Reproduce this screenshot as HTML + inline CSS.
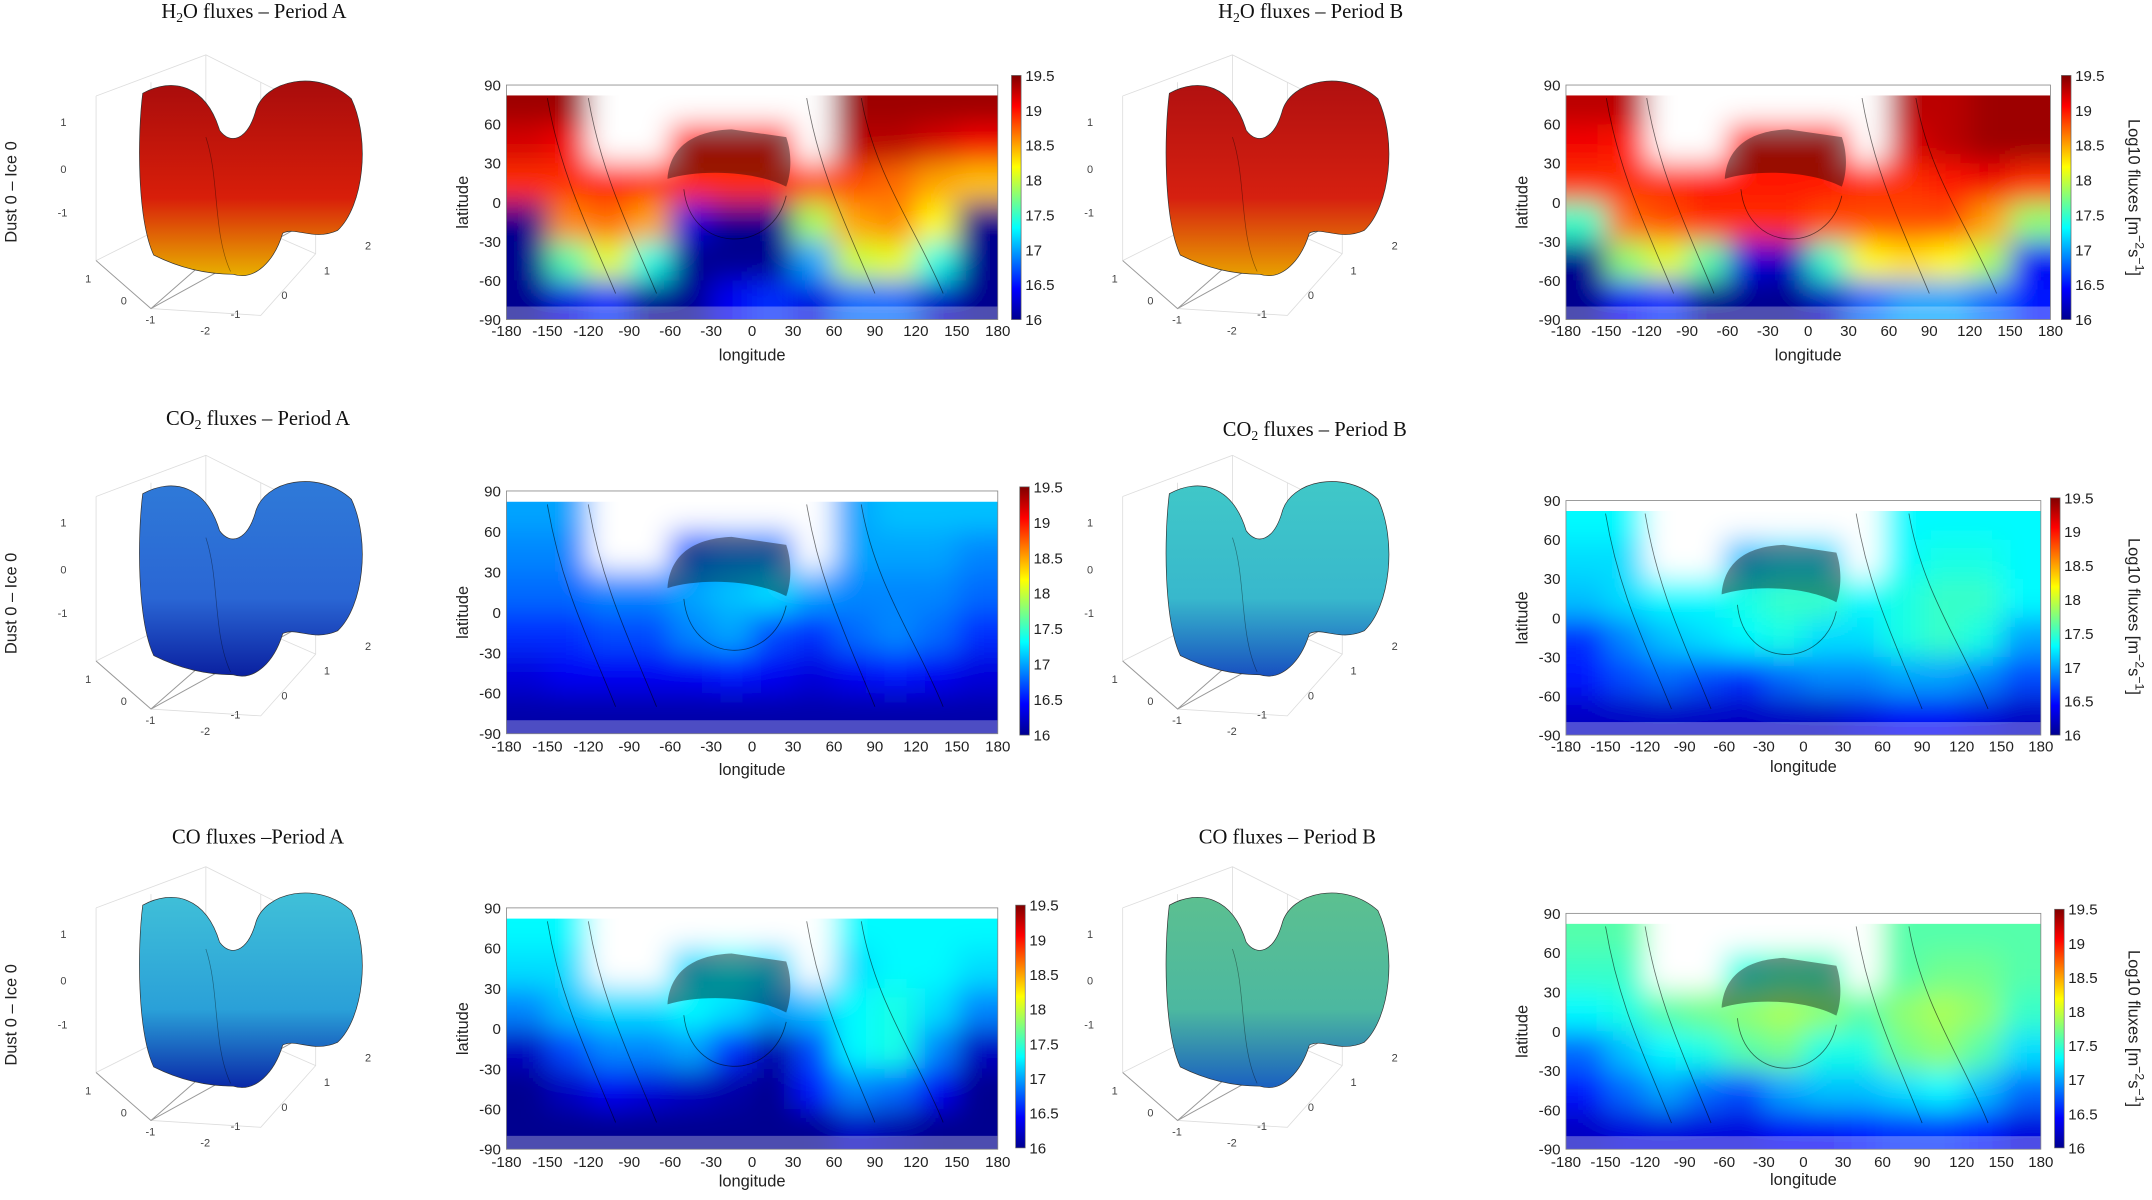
<!DOCTYPE html>
<html><head><meta charset="utf-8">
<style>
html,body{margin:0;padding:0;background:#fff;}
svg{display:block;}
.t{font-family:"Liberation Serif",serif;font-size:15px;fill:#111;}
.tk{font-family:"Liberation Sans",sans-serif;font-size:11px;fill:#222;}
.lab{font-family:"Liberation Sans",sans-serif;font-size:12px;fill:#222;}
.sm{font-family:"Liberation Sans",sans-serif;font-size:8px;fill:#444;}
</style></head>
<body>
<svg id="fig" width="2152" height="1200" viewBox="0 0 1568 875" preserveAspectRatio="none" xmlns="http://www.w3.org/2000/svg">
<defs>
<linearGradient id="jet" x1="0" y1="1" x2="0" y2="0">
<stop offset="0" stop-color="#00008f"/><stop offset="0.125" stop-color="#0000ff"/><stop offset="0.375" stop-color="#00ffff"/><stop offset="0.625" stop-color="#ffff00"/><stop offset="0.875" stop-color="#ff0000"/><stop offset="1" stop-color="#800000"/>
</linearGradient>
<filter id="blur" x="-5%" y="-5%" width="110%" height="110%"><feGaussianBlur stdDeviation="10"/></filter>
</defs>
<g id="root"></g>
</svg>
<script>
// heatmap grid: rows are latitude bands centered on these values, columns longitude centers
const latCenters = [75, 45, 15, -15, -45, -75];
const lonCenters = [-165, -135, -105, -75, -45, -15, 15, 45, 75, 105, 135, 165];
const lonTicks = [-180,-150,-120,-90,-60,-30,0,30,60,90,120,150,180];
const latTicks = [90,60,30,0,-30,-60,-90];
const cbTicks = [19.5,19,18.5,18,17.5,17,16.5,16];
const h2oA = [
 [19.4,19.4,null,null,null,null,null,null,19.4,19.4,19.4,19.4],
 [19.2,19.1,null,null,19.0,19.0,19.0,null,19.3,19.3,19.2,19.1],
 [18.9,18.9,19.0,18.9,18.9,18.9,18.9,18.8,18.8,18.7,18.5,18.4],
 [16.0,18.6,18.7,18.5,16.3,16.0,16.0,17.9,18.5,18.6,18.2,16.0],
 [16.0,17.6,18.1,17.4,16.0,16.0,16.0,17.0,18.0,18.1,17.4,16.0],
 [16.0,16.3,16.6,16.0,16.0,16.4,16.6,16.3,16.8,16.8,16.2,16.0]];
const h2oB = [
 [19.3,19.3,null,null,null,null,null,null,19.3,19.3,19.4,19.4],
 [19.1,19.0,null,null,19.0,19.0,19.0,null,19.2,19.3,19.4,19.4],
 [18.9,18.9,18.9,19.0,19.0,19.0,19.0,18.9,18.9,19.0,19.1,18.9],
 [17.5,18.7,18.8,18.9,18.9,18.9,18.8,18.8,18.8,18.8,18.5,17.8],
 [16.0,17.8,18.1,17.6,16.3,16.2,17.5,18.2,18.3,18.2,17.9,16.4],
 [16.0,16.4,16.6,16.0,16.0,16.0,16.2,16.8,17.0,17.0,16.8,16.5]];
const co2A = [
 [17.0,17.0,null,null,null,null,null,null,17.0,17.1,17.1,17.1],
 [16.9,16.9,null,null,16.8,16.9,16.9,null,17.0,17.0,17.0,16.9],
 [16.8,16.8,16.9,16.9,17.0,17.1,17.2,17.0,16.9,16.9,16.9,16.8],
 [16.6,16.6,16.7,16.7,16.9,17.0,16.7,16.6,16.8,16.9,16.8,16.6],
 [16.3,16.4,16.4,16.4,16.4,16.5,16.4,16.3,16.4,16.5,16.4,16.3],
 [16.1,16.1,16.1,16.1,16.1,16.1,16.1,16.1,16.1,16.1,16.1,16.1]];
const co2B = [
 [17.3,17.3,null,null,null,null,null,null,17.3,17.3,17.3,17.3],
 [17.2,17.2,null,null,17.1,17.2,17.2,null,17.3,17.4,17.4,17.3],
 [17.1,17.2,17.3,17.3,17.4,17.5,17.5,17.3,17.4,17.5,17.5,17.3],
 [16.6,16.9,17.1,17.2,17.3,17.4,17.2,17.2,17.4,17.5,17.4,17.0],
 [16.5,16.7,16.8,16.7,16.6,16.8,16.9,16.9,17.0,17.0,16.9,16.7],
 [16.2,16.2,16.2,16.2,16.2,16.2,16.2,16.3,16.4,16.4,16.3,16.2]];
const coA = [
 [17.3,17.3,null,null,null,null,null,null,17.3,17.3,17.3,17.3],
 [17.2,17.2,null,null,17.2,17.3,17.2,null,17.2,17.3,17.3,17.2],
 [16.9,17.1,17.2,17.2,17.3,17.2,17.0,17.1,17.3,17.4,17.2,16.9],
 [16.2,16.7,16.9,16.9,17.0,16.6,16.1,16.7,17.3,17.4,16.9,16.2],
 [16.0,16.2,16.4,16.3,16.2,16.1,16.0,16.5,16.9,16.8,16.4,16.0],
 [16.0,16.0,16.0,16.0,16.0,16.0,16.0,16.0,16.2,16.1,16.0,16.0]];
const coB = [
 [17.6,17.6,null,null,null,null,null,null,17.6,17.6,17.6,17.6],
 [17.5,17.5,null,null,17.4,17.5,17.5,null,17.6,17.7,17.7,17.6],
 [17.3,17.4,17.6,17.7,17.8,17.9,17.8,17.6,17.8,17.9,17.8,17.5],
 [16.8,17.1,17.3,17.4,17.6,17.7,17.4,17.4,17.7,17.8,17.6,17.2],
 [16.5,16.8,17.0,16.8,16.7,17.0,17.1,17.1,17.2,17.3,17.1,16.8],
 [16.2,16.3,16.3,16.3,16.3,16.4,16.4,16.5,16.6,16.6,16.5,16.3]];

const NS="http://www.w3.org/2000/svg";
const root=document.getElementById('root');
function mk(tag,attrs,parent){const e=document.createElementNS(NS,tag);for(const k in attrs)e.setAttribute(k,attrs[k]);(parent||root).appendChild(e);return e;}
function jet(v){
  let t=Math.max(0,Math.min(1,(v-16)/3.5));
  const st=[[0,0,0,143],[0.125,0,0,255],[0.375,0,255,255],[0.625,255,255,0],[0.875,255,0,0],[1,128,0,0]];
  for(let i=1;i<st.length;i++){if(t<=st[i][0]){const a=st[i-1],b=st[i],f=(t-a[0])/(b[0]-a[0]);
    return `rgb(${Math.round(a[1]+f*(b[1]-a[1]))},${Math.round(a[2]+f*(b[2]-a[2]))},${Math.round(a[3]+f*(b[3]-a[3]))})`;}}
  return 'rgb(128,0,0)';
}
const maps=[
 {id:'h2o-a',data:h2oA,L:369,T:62,R:727,B:233,cx:737,ct:55,cb:233,ty:245,ly:263,log:false},
 {id:'h2o-b',data:h2oB,L:1141,T:62,R:1494,B:233,cx:1502,ct:55,cb:233,ty:245,ly:263,log:true},
 {id:'co2-a',data:co2A,L:369,T:358,R:727,B:535,cx:743,ct:355,cb:536,ty:548,ly:565,log:false},
 {id:'co2-b',data:co2B,L:1141,T:365,R:1487,B:536,cx:1494,ct:363,cb:536,ty:548,ly:563,log:true},
 {id:'co-a',data:coA,L:369,T:662,R:727,B:838,cx:740,ct:660,cb:837,ty:851,ly:865,log:false},
 {id:'co-b',data:coB,L:1141,T:666,R:1487,B:838,cx:1497,ct:663,cb:837,ty:851,ly:864,log:true}];

maps.forEach((m,mi)=>{
  const g=mk('g',{});
  
  
  const w=m.R-m.L,h=m.B-m.T;
  const X=lon=>m.L+(lon+180)/360*w, Y=lat=>m.T+(90-lat)/180*h;
  const cid='clip'+mi;
  const cp=mk('clipPath',{id:cid},g); mk('rect',{x:m.L,y:m.T,width:w,height:h},cp);
  const wrap=mk('g',{'clip-path':`url(#${cid})`},g);
  const cells=mk('g',{filter:'url(#blur)'},wrap);
  m.data.forEach((row,ri)=>row.forEach((v,ci)=>{
    let x0=X(lonCenters[ci]-15),x1=X(lonCenters[ci]+15),y0=Y(latCenters[ri]+15),y1=Y(latCenters[ri]-15);
    if(ci===0)x0-=30; if(ci===row.length-1)x1+=30; if(ri===0)y0-=30; if(ri===m.data.length-1)y1+=30;
    const r=mk('rect',{x:x0,y:y0,width:x1-x0+0.5,height:y1-y0+0.5,fill:v===null?'#ffffff':jet(v)},cells);
    
    
  }));
  mk('rect',{x:m.L,y:m.T,width:w,height:Y(82)-m.T,fill:'#fff'},wrap);
  mk('rect',{x:m.L,y:Y(-80),width:w,height:m.B-Y(-80),fill:'#fff',opacity:0.3},wrap);
  mk('path',{d:`M${X(-62)},${Y(18)} C${X(-60)},${Y(45)} ${X(-40)},${Y(55)} ${X(-15)},${Y(56)} L${X(25)},${Y(50)} C${X(30)},${Y(35)} ${X(28)},${Y(20)} ${X(25)},${Y(12)} C${X(0)},${Y(25)} ${X(-40)},${Y(25)} ${X(-62)},${Y(18)} Z`,fill:'#000',opacity:0.4},wrap);
  [[-150,-100],[-120,-70],[40,90],[80,140]].forEach(p=>{
    mk('path',{d:`M${X(p[0])},${Y(80)} C${X(p[0]+10)},${Y(20)} ${X(p[1]-20)},${Y(-20)} ${X(p[1])},${Y(-70)}`,fill:'none',stroke:'#000','stroke-width':0.6,opacity:0.55},wrap);
  });
  mk('path',{d:`M${X(-50)},${Y(10)} C${X(-45)},${Y(-40)} ${X(15)},${Y(-40)} ${X(25)},${Y(5)}`,fill:'none',stroke:'#000','stroke-width':0.6,opacity:0.55},wrap);
  mk('rect',{x:m.L,y:m.T,width:w,height:h,fill:'none',stroke:'#888','stroke-width':0.6},g);
  lonTicks.forEach(t=>{const e=mk('text',{x:X(t),y:m.ty,'text-anchor':'middle',class:'tk'},g);e.textContent=t;
    });
  latTicks.forEach(t=>{const e=mk('text',{x:m.L-4,y:Y(t)+4,'text-anchor':'end',class:'tk'},g);e.textContent=t;
    });
  const xl=mk('text',{x:(m.L+m.R)/2,y:m.ly,'text-anchor':'middle',class:'lab'},g);xl.textContent='longitude';
  
  const yl=mk('text',{x:0,y:0,'text-anchor':'middle',class:'lab',transform:`translate(${m.L-28},${(m.T+m.B)/2}) rotate(-90)`},g);yl.textContent='latitude';
  
  const cb=mk('rect',{x:m.cx,y:m.ct,width:7,height:m.cb-m.ct,fill:'url(#jet)',stroke:'#666','stroke-width':0.5},g);
  
  cbTicks.forEach(t=>{const yy=m.cb-(t-16)/3.5*(m.cb-m.ct);const e=mk('text',{x:m.cx+10,y:yy+4,class:'tk'},g);e.textContent=t;
    });
  if(m.log){const e=mk('text',{x:0,y:0,'text-anchor':'middle',class:'lab','font-size':'13',transform:`translate(${1551},${(m.ct+m.cb)/2}) rotate(90)`},g);
    e.innerHTML='Log10 fluxes [m<tspan dy="-5" font-size="9">−2</tspan><tspan dy="5">s</tspan><tspan dy="-5" font-size="9">−1</tspan><tspan dy="5">]</tspan>';
    }
});

const comets=[
 {id:'h2o-a',dx:0,dy:0,top:'#a80c0c',mid:'#d81e0a',bot:'#e8b000'},
 {id:'h2o-b',dx:748,dy:0,top:'#b01010',mid:'#d62010',bot:'#e8a000'},
 {id:'co2-a',dx:0,dy:292,top:'#2f7ad8',mid:'#2a66d4',bot:'#0a20a0'},
 {id:'co2-b',dx:748,dy:292,top:'#40c8c8',mid:'#38b8cc',bot:'#1850c0'},
 {id:'co-a',dx:0,dy:592,top:'#40c0d8',mid:'#2aa0d8',bot:'#0a28a8'},
 {id:'co-b',dx:748,dy:592,top:'#5cc090',mid:'#4cb8a0',bot:'#1a60c0'}];
const defs=document.querySelector('defs');
comets.forEach((c,i)=>{
  const g=mk('g',{transform:`translate(${c.dx},${c.dy})`});
  
  
  const lg=mk('linearGradient',{id:'cg'+i,x1:0,y1:0,x2:0,y2:1},defs);
  mk('stop',{offset:0,'stop-color':c.top},lg);mk('stop',{offset:0.6,'stop-color':c.mid},lg);mk('stop',{offset:1,'stop-color':c.bot},lg);
  const gs={stroke:'#ddd','stroke-width':0.6,fill:'none'};
  mk('path',{d:'M70,70 L70,190 L110,225 L190,155 M70,70 L150,40 L230,80 L230,185 L190,230 L110,225 M150,40 L150,150 L70,190 M150,150 L230,185 M110,60 L110,170 M190,60 L190,170',...gs},g);
  mk('path',{d:'M70,190 L110,225 L190,155 M110,225 L255,145',stroke:'#999','stroke-width':0.7,fill:'none'},g);
  mk('path',{d:'M104,68 C126,56 150,62 160,95 C168,106 180,102 186,82 C192,58 232,50 256,72 C270,102 265,150 246,168 C228,176 216,165 206,170 C200,190 186,205 170,200 C150,200 130,195 112,186 C100,160 100,100 104,68 Z',fill:`url(#cg${i})`,stroke:'#333','stroke-width':0.5},g);
  mk('path',{d:'M150,100 C160,130 155,170 168,198',stroke:'#000','stroke-width':0.5,fill:'none',opacity:0.4},g);
  [['1',44,92],['0',44,126],['-1',42,158],['1',62,206],['0',88,222],['-1',106,236],['-2',146,244],['-1',168,232],['0',205,218],['1',236,200],['2',266,182]].forEach(t=>{
    const e=mk('text',{x:t[1],y:t[2],class:'sm'},g);e.textContent=t[0];
    });
});

const titles=[
 [185,13,'H','2','O fluxes – Period A'],[955,13,'H','2','O fluxes – Period B'],
 [188,310,'CO','2',' fluxes – Period A'],[958,318,'CO','2',' fluxes – Period B'],
 [188,615,'CO fluxes –Period A','',''],[938,615,'CO fluxes – Period B','','']];
titles.forEach(t=>{const e=mk('text',{x:t[0],y:t[1],'text-anchor':'middle',class:'t'});
  e.innerHTML=t[2]+(t[3]?`<tspan dy="3" font-size="10">${t[3]}</tspan><tspan dy="-3">${t[4]}</tspan>`:'');
  });
[140,440,740].forEach(y=>{const e=mk('text',{x:0,y:0,'text-anchor':'middle',class:'lab','font-size':'13',transform:`translate(12,${y}) rotate(-90)`});
  e.textContent='Dust 0 – Ice 0';});
</script>
</body></html>
